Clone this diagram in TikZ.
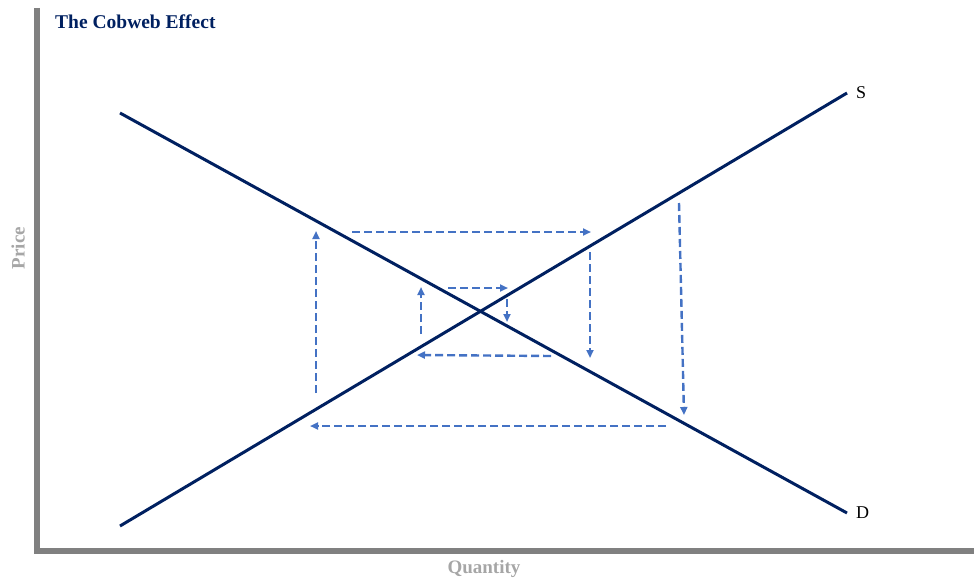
\documentclass[tikz,border=0pt]{standalone}
\usepackage{fontspec}
\setmainfont{Liberation Serif}
\usepackage{xcolor}
\usetikzlibrary{arrows.meta, positioning}
\definecolor{navy}{HTML}{002060}
\definecolor{dashblue}{HTML}{4472C4}
\definecolor{axisgray}{HTML}{808080}
\definecolor{labelgray}{HTML}{A6A6A6}
\tikzset{
  axisline/.style={line width=6pt, axisgray},
  curve/.style={line width=3pt, navy},
  cobarrow/.style={-{Triangle[length=8pt,width=7pt]}, line width=2.4pt, dashblue,
                   dash pattern=on 8pt off 4pt},
  axislabel/.style={font=\bfseries\fontsize{19}{22}\selectfont, text=labelgray, inner sep=0pt},
  curvelabel/.style={font=\fontsize{18}{20}\selectfont, anchor=west, inner sep=0pt},
  title/.style={font=\bfseries\fontsize{19.5}{22}\selectfont, text=navy, anchor=west, inner sep=0pt},
}

\begin{document}
\begin{tikzpicture}[x=1pt, y=-1pt]
  \useasboundingbox (0,0) rectangle (974,578);

  % --- Axes ---
  \coordinate (top) at (37,8);
  \coordinate (origin) at (37,551);
  \coordinate (right) at (974,551);
  \draw[axisline] (top) -- (origin) -- (right);

  % --- Titles ---
  \node[title] (ttl) at (55,22) {The Cobweb Effect};
  \node[axislabel, rotate=90] (price) at (18,248) {Price};
  \node[axislabel] (qty) at (484,569) {Quantity};

  % --- Supply and demand ---
  \coordinate (d0) at (120,113);
  \coordinate (d1) at (847,513);
  \coordinate (s0) at (120,526);
  \coordinate (s1) at (847,93);
  \draw[curve] (d0) -- (d1);
  \draw[curve] (s0) -- (s1);
  \node[curvelabel, right=9pt of s1] (slbl) {S};
  \node[curvelabel, right=9pt of d1] (dlbl) {D};

  % --- Cobweb path ---
  \coordinate (a1) at (316,393);  \coordinate (a2) at (316,231);
  \coordinate (b1) at (352,232);  \coordinate (b2) at (591,232);
  \coordinate (c1) at (590,252);  \coordinate (c2) at (590,358);
  \coordinate (e1) at (551,356);  \coordinate (e2) at (417,355);
  \coordinate (f1) at (421,334);  \coordinate (f2) at (421,287);
  \coordinate (g1) at (448,288);  \coordinate (g2) at (508,288);
  \coordinate (h1) at (507,299);  \coordinate (h2) at (507,322);
  \coordinate (k1) at (679,203);  \coordinate (k2) at (684,415);
  \coordinate (m1) at (666,426);  \coordinate (m2) at (310,426);

  % --- Arrows ---
  \draw[cobarrow] (a1) -- (a2);
  \draw[cobarrow] (b1) -- (b2);
  \draw[cobarrow] (c1) -- (c2);
  \draw[cobarrow] (e1) -- (e2);
  \draw[cobarrow] (f1) -- (f2);
  \draw[cobarrow] (g1) -- (g2);
  \draw[cobarrow] (h1) -- (h2);
  \draw[cobarrow] (k1) -- (k2);
  \draw[cobarrow] (m1) -- (m2);

\end{tikzpicture}
\end{document}
